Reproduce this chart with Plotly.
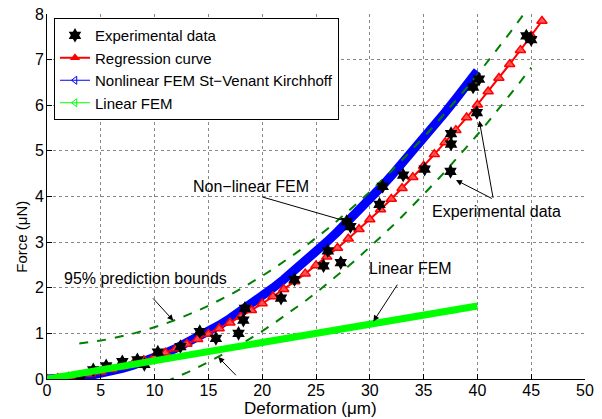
import plotly.graph_objects as go

# ---------------- data ----------------
exp_x = [3.1, 4.3, 5.5, 7.0, 8.4, 9.05, 10.3, 12.4, 14.2, 15.7, 17.8, 18.25, 18.4,
         21.75, 23.0, 25.7, 26.1, 27.3, 27.85, 28.2, 30.9, 31.2, 33.1, 35.1, 37.5,
         37.55, 37.55, 39.6, 39.95, 40.15, 44.55, 45.0]
exp_y = [0.02, 0.2, 0.29, 0.38, 0.42, 0.32, 0.59, 0.71, 1.04, 0.89, 1.0, 1.29, 1.55,
         1.77, 2.18, 2.48, 2.81, 2.55, 3.45, 3.34, 3.83, 4.22, 4.47, 4.6, 4.55,
         5.15, 5.38, 6.4, 5.84, 6.57, 7.52, 7.44]

reg_x = list(range(0, 47))
reg_y = [0.0, 0.0185, 0.0437, 0.0757, 0.1145, 0.160, 0.2123, 0.2713, 0.3371, 0.4097,
         0.489, 0.5751, 0.6679, 0.7675, 0.8739, 0.987, 1.1069, 1.2335, 1.3669, 1.5071,
         1.654, 1.8077, 1.9681, 2.1353, 2.3093, 2.49, 2.6775, 2.8717, 3.0727, 3.2805,
         3.495, 3.7163, 3.9443, 4.1791, 4.4207, 4.669, 4.9241, 5.1859, 5.4545, 5.7299,
         6.012, 6.3009, 6.5965, 6.8989, 7.2081, 7.524, 7.8467]

nl_x = list(range(0, 41))
nl_y = [0.0, 0.0048, 0.0193, 0.0433, 0.0767, 0.1195, 0.1715, 0.2327, 0.3028, 0.382,
        0.47, 0.5668, 0.6722, 0.7862, 0.9087, 1.0395, 1.1786, 1.3259, 1.4813, 1.6447,
        1.816, 1.9951, 2.1819, 2.3763, 2.5782, 2.7875, 3.0041, 3.228, 3.459, 3.697,
        3.942, 4.1938, 4.4524, 4.7176, 4.9893, 5.2675, 5.5521, 5.8429, 6.1399, 6.443,
        6.752]

lin_x = [0, 40]
lin_y = [0.0, 1.6]

pb_x = list(range(3, 46))
pb_upper = [0.776, 0.805, 0.842, 0.886, 0.937, 0.995, 1.061, 1.133, 1.213, 1.301,
            1.395, 1.497, 1.605, 1.721, 1.845, 1.975, 2.113, 2.258, 2.410, 2.569,
            2.736, 2.909, 3.090, 3.278, 3.474, 3.676, 3.886, 4.103, 4.327, 4.559,
            4.798, 5.043, 5.296, 5.557, 5.824, 6.099, 6.381, 6.670, 6.966, 7.270,
            7.581, 7.899, 8.224]
pb_lower = [-0.624, -0.576, -0.522, -0.461, -0.394, -0.321, -0.241, -0.155, -0.063, 0.035,
            0.140, 0.251, 0.369, 0.492, 0.622, 0.759, 0.901, 1.050, 1.206, 1.367,
            1.535, 1.709, 1.890, 2.077, 2.270, 2.469, 2.675, 2.887, 3.105, 3.330,
            3.561, 3.798, 4.042, 4.291, 4.548, 4.810, 5.079, 5.354, 5.635, 5.923,
            6.217, 6.517, 6.824]

x_ticks = [0, 5, 10, 15, 20, 25, 30, 35, 40, 45, 50]
y_ticks = [0, 1, 2, 3, 4, 5, 6, 7, 8]

FONT = "Liberation Sans, Arial, Helvetica, sans-serif"
BLUE = "#0000ff"
LIME = "#00ff00"
RED = "#ff0000"
DGREEN = "#008000"

fig = go.Figure()

# legend entries (legend-only)
fig.add_trace(go.Scatter(x=[None], y=[None], mode="markers", name="Experimental data",
                         marker=dict(symbol="hexagram", size=11, color="black")))
fig.add_trace(go.Scatter(x=[None], y=[None], mode="lines+markers", name="Regression curve",
                         line=dict(color=RED, width=2),
                         marker=dict(symbol="triangle-up", size=9, color=RED)))
fig.add_trace(go.Scatter(x=[None], y=[None], mode="lines+markers",
                         name="Nonlinear FEM St\u2212Venant Kirchhoff",
                         line=dict(color=BLUE, width=1),
                         marker=dict(symbol="triangle-left-open", size=7, color=BLUE)))
fig.add_trace(go.Scatter(x=[None], y=[None], mode="lines+markers", name="Linear FEM",
                         line=dict(color=LIME, width=1),
                         marker=dict(symbol="triangle-left-open", size=7, color=LIME)))

# plotted traces
fig.add_trace(go.Scatter(x=nl_x, y=nl_y, mode="lines", showlegend=False,
                         line=dict(color=BLUE, width=9)))
fig.add_trace(go.Scatter(x=reg_x, y=reg_y, mode="lines+markers", showlegend=False,
                         line=dict(color=RED, width=2),
                         marker=dict(symbol="triangle-up", size=9, color="rgba(255,80,80,0.9)",
                                     line=dict(color=RED, width=1.5))))
fig.add_trace(go.Scatter(x=pb_x, y=pb_upper, mode="lines", showlegend=False,
                         line=dict(color=DGREEN, width=2, dash="dash")))
fig.add_trace(go.Scatter(x=pb_x, y=pb_lower, mode="lines", showlegend=False,
                         line=dict(color=DGREEN, width=2, dash="dash")))
fig.add_trace(go.Scatter(x=exp_x, y=exp_y, mode="markers", showlegend=False,
                         marker=dict(symbol="hexagram", size=11, color="black")))
fig.add_trace(go.Scatter(x=lin_x, y=lin_y, mode="lines", showlegend=False,
                         line=dict(color=LIME, width=7)))

# annotations: (text, x, y)
labels = [("Non\u2212linear FEM", 18.96, 4.22),
          ("95% prediction bounds", 9.11, 2.21),
          ("Linear FEM", 33.8, 2.43),
          ("Experimental data", 41.75, 3.68)]
for t, lx, ly in labels:
    fig.add_annotation(x=lx, y=ly, xref="x", yref="y", text=t, showarrow=False,
                       font=dict(family=FONT, size=16, color="black"))

# arrows: (head_x, head_y, tail_x, tail_y)
arrows = [(28.07, 3.44, 19.86, 4.0),
          (11.74, 1.28, 9.73, 1.80),
          (15.92, 0.48, 17.69, 0.05),
          (30.33, 1.26, 32.65, 2.10),
          (38.01, 4.36, 41.48, 3.94),
          (40.18, 5.66, 41.48, 3.94)]
for hx, hy, tx, ty in arrows:
    fig.add_annotation(x=hx, y=hy, ax=tx, ay=ty, xref="x", yref="y", axref="x", ayref="y",
                       text="", showarrow=True, arrowhead=2, arrowsize=1.2, arrowwidth=1,
                       arrowcolor="black")

# axis labels
fig.add_annotation(x=-0.049, y=0.389, xref="paper", yref="paper", text="Force (\u03bcN)",
                   textangle=-90, showarrow=False, xanchor="center", yanchor="middle",
                   font=dict(family=FONT, size=15, color="black"))
fig.add_annotation(x=0.49, y=-0.08, xref="paper", yref="paper", text="Deformation (\u03bcm)",
                   showarrow=False, xanchor="center", yanchor="middle",
                   font=dict(family=FONT, size=17, color="black"))

axis_common = dict(showline=True, linecolor="black", linewidth=1, ticks="inside",
                   ticklen=5, tickcolor="black", showgrid=True, gridcolor="#888888",
                   gridwidth=1, griddash="dot", zeroline=False, automargin=False,
                   ticklabeloverflow="allow",
                   tickfont=dict(family=FONT, size=16, color="black"))

fig.update_xaxes(range=[0, 50], tickvals=x_ticks, ticktext=[str(v) for v in x_ticks],
                 ticklabelstandoff=-3, **axis_common)
fig.update_yaxes(range=[0, 8], tickvals=y_ticks, ticktext=[str(v) for v in y_ticks],
                 ticklabelstandoff=-1, **axis_common)

fig.update_layout(width=602, height=419, autosize=False,
                  margin=dict(l=47, r=17, t=14, b=40, pad=0),
                  plot_bgcolor="white", paper_bgcolor="white",
                  font=dict(family=FONT, size=16, color="black"),
                  legend=dict(x=0.013, y=0.989, xanchor="left", yanchor="top",
                              bgcolor="white", bordercolor="black", borderwidth=1,
                              font=dict(family=FONT, size=15, color="black"),
                              tracegroupgap=0, itemwidth=30))

fig.write_html("out.html", config={"displayModeBar": False},
               post_script="document.body.style.margin='0px';")
